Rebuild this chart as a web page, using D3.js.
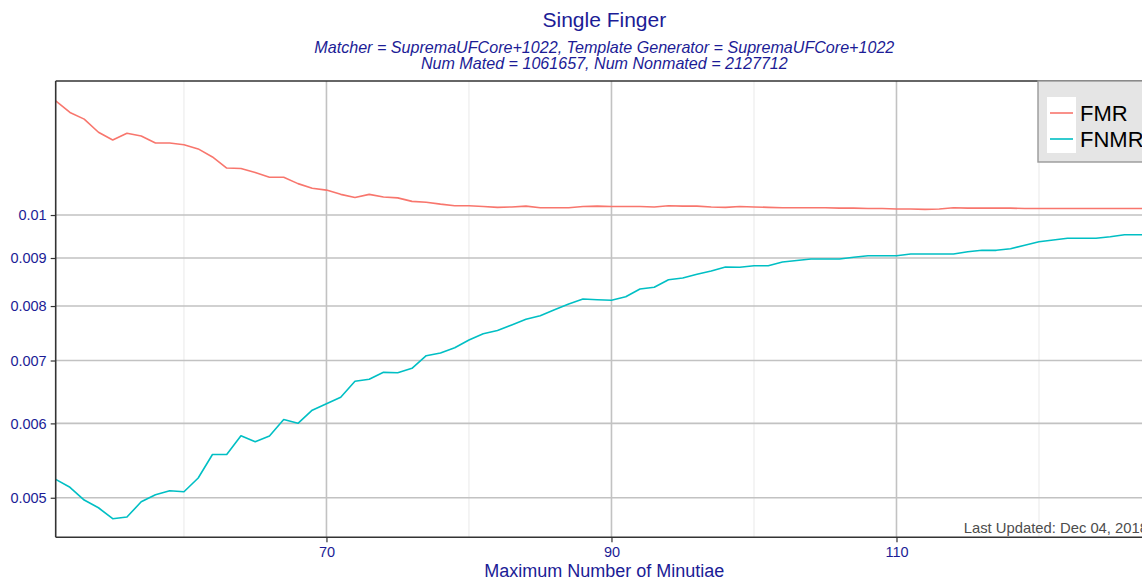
<!DOCTYPE html>
<html>
<head>
<meta charset="utf-8">
<script src="https://cdn.jsdelivr.net/npm/d3@7"></script>
<style>
  html, body { margin: 0; padding: 0; background: #fff; overflow: hidden; }
  svg { display: block; font-family: "Liberation Sans", Arial, sans-serif; }
</style>
</head>
<body>
<svg id="chart" width="1142" height="580"></svg>
<script>
// ---- data ----
const minutiae = d3.range(51, 129); // 51..128
const fmr = [
  0.01323, 0.01286, 0.01265, 0.01225, 0.01202, 0.01222, 0.01214, 0.01193, 0.01193, 0.01188,
  0.01176, 0.01153, 0.01122, 0.01121, 0.01110, 0.01097, 0.01097, 0.01080, 0.01068, 0.01063,
  0.01052, 0.01044, 0.01052, 0.01045, 0.01043, 0.01034, 0.01032, 0.01027, 0.01023, 0.01023,
  0.01021, 0.01019, 0.01020, 0.01022, 0.01018, 0.01018, 0.01018, 0.01021, 0.01022, 0.01021,
  0.01021, 0.01021, 0.01020, 0.01023, 0.01022, 0.01022, 0.01020, 0.01019, 0.01021, 0.01020,
  0.01019, 0.01018, 0.01018, 0.01018, 0.01018, 0.01017, 0.01017, 0.01016, 0.01016, 0.01015,
  0.01015, 0.01014, 0.01015, 0.01018, 0.01017, 0.01017, 0.01017, 0.01017, 0.01016, 0.01016,
  0.01016, 0.01016, 0.01016, 0.01016, 0.01016, 0.01016, 0.01016, 0.01016
];
const fnmr = [
  0.005231, 0.005130, 0.004972, 0.004879, 0.004750, 0.004769, 0.004951, 0.005037, 0.005087, 0.005074,
  0.005248, 0.005559, 0.005559, 0.005821, 0.005736, 0.005817, 0.006057, 0.006001, 0.006197, 0.006296,
  0.006396, 0.006652, 0.006685, 0.006800, 0.006794, 0.006867, 0.007083, 0.007130, 0.007223, 0.007361,
  0.007475, 0.007534, 0.007636, 0.007744, 0.007812, 0.007928, 0.008040, 0.008139, 0.008125, 0.008113,
  0.008185, 0.008341, 0.008376, 0.008533, 0.008569, 0.008647, 0.008717, 0.008803, 0.008797, 0.008831,
  0.008831, 0.008912, 0.008945, 0.008977, 0.008977, 0.008977, 0.009015, 0.009050, 0.009050, 0.009050,
  0.009088, 0.009088, 0.009088, 0.009088, 0.009139, 0.009171, 0.009171, 0.009207, 0.009284, 0.009366,
  0.009405, 0.009445, 0.009445, 0.009445, 0.009482, 0.009528, 0.009528, 0.009530
];
const seriesNames = ["FMR", "FNMR"];
const seriesColors = ["#F8766D", "#00BFC4"];
const yTicks = [0.005, 0.006, 0.007, 0.008, 0.009, 0.01];
const yTickLabels = ["0.005", "0.006", "0.007", "0.008", "0.009", "0.01"];
const xMajorTicks = [70, 90, 110];
const xMinorTicks = [60, 80, 100, 120];
const titleText = "Single Finger";
const subtitleLines = [
  "Matcher = SupremaUFCore+1022, Template Generator = SupremaUFCore+1022",
  "Num Mated = 1061657, Num Nonmated = 2127712"
];
const xLabel = "Maximum Number of Minutiae";
const footnote = "Last Updated: Dec 04, 2018";

// ---- layout ----
const textColor = "#1c1c96";
const svg = d3.select("#chart");
const panel = { left: 55.7, top: 81, right: 1153, bottom: 537.3 };

const x = d3.scaleLinear().domain([51, 128]).range([panel.left, panel.right]);
const y = d3.scaleLog().domain([0.004538, 0.01389]).range([panel.bottom, panel.top]);

// gridlines
const g = svg.append("g");
g.selectAll("line.minor").data(xMinorTicks).enter().append("line")
  .attr("x1", d => x(d)).attr("x2", d => x(d))
  .attr("y1", panel.top).attr("y2", panel.bottom)
  .attr("stroke", "#ebebeb").attr("stroke-width", 1.1);
g.selectAll("line.majx").data(xMajorTicks).enter().append("line")
  .attr("x1", d => x(d)).attr("x2", d => x(d))
  .attr("y1", panel.top).attr("y2", panel.bottom)
  .attr("stroke", "#c2c2c2").attr("stroke-width", 1.6);
g.selectAll("line.majy").data(yTicks).enter().append("line")
  .attr("x1", panel.left).attr("x2", panel.right)
  .attr("y1", d => y(d)).attr("y2", d => y(d))
  .attr("stroke", "#c2c2c2").attr("stroke-width", 1.6);

// lines
const line = d3.line().x((d, i) => x(minutiae[i])).y(d => y(d));
[fmr, fnmr].forEach((s, i) => {
  svg.append("path").datum(s)
    .attr("d", line)
    .attr("fill", "none")
    .attr("stroke", seriesColors[i])
    .attr("stroke-width", 1.6)
    .attr("stroke-linejoin", "round");
});

// panel border (top)
svg.append("line").attr("x1", panel.left).attr("x2", panel.right)
  .attr("y1", panel.top).attr("y2", panel.top)
  .attr("stroke", "#333").attr("stroke-width", 1.4);

// axes
const yAxis = d3.axisLeft(y).tickValues(yTicks).tickFormat((d, i) => yTickLabels[i]).tickSize(5).tickPadding(4);
const yG = svg.append("g").attr("transform", `translate(${panel.left},0)`).call(yAxis);
const xAxis = d3.axisBottom(x).tickValues(xMajorTicks).tickFormat(d3.format("d")).tickSize(5).tickPadding(4);
const xG = svg.append("g").attr("transform", `translate(0,${panel.bottom})`).call(xAxis);
[yG, xG].forEach(a => {
  a.select(".domain").attr("stroke", "#333").attr("stroke-width", 1.6);
  a.selectAll(".tick line").attr("stroke", "#333").attr("stroke-width", 1.2);
  a.selectAll(".tick text").attr("fill", textColor).attr("font-size", 14.5)
    .attr("font-family", "Liberation Sans, Arial, sans-serif");
});
xG.select(".domain").attr("d", `M${panel.left},0H${panel.right}`);
yG.select(".domain").attr("d", `M0,${panel.top}V${panel.bottom}`);

// footnote
svg.append("text").attr("x", panel.right - 5).attr("y", panel.bottom - 4)
  .attr("text-anchor", "end").attr("font-size", 14.8).attr("fill", "#4d4d4d")
  .text(footnote);

// titles
const cx = (panel.left + panel.right) / 2;
svg.append("text").attr("x", cx).attr("y", 27).attr("text-anchor", "middle")
  .attr("font-size", 21).attr("fill", textColor).text(titleText);
subtitleLines.forEach((t, i) => {
  svg.append("text").attr("x", cx).attr("y", 53 + i * 16).attr("text-anchor", "middle")
    .attr("font-size", 16.1).attr("font-style", "italic").attr("fill", textColor).text(t);
});
svg.append("text").attr("x", cx).attr("y", 577).attr("text-anchor", "middle")
  .attr("font-size", 18).attr("fill", textColor).text(xLabel);

// legend
const lg = svg.append("g");
lg.append("rect").attr("x", 1038).attr("y", 81).attr("width", 125).attr("height", 81)
  .attr("fill", "#e5e5e5").attr("stroke", "#999").attr("stroke-width", 1.4);
lg.append("rect").attr("x", 1047).attr("y", 97).attr("width", 29).attr("height", 56).attr("fill", "#fff");
seriesNames.forEach((n, i) => {
  const yy = 113 + i * 26;
  lg.append("line").attr("x1", 1050).attr("x2", 1073).attr("y1", yy).attr("y2", yy)
    .attr("stroke", seriesColors[i]).attr("stroke-width", 1.6);
  lg.append("text").attr("x", 1080).attr("y", yy + 8).attr("font-size", 22).attr("fill", "#000").text(n);
});
</script>
</body>
</html>
